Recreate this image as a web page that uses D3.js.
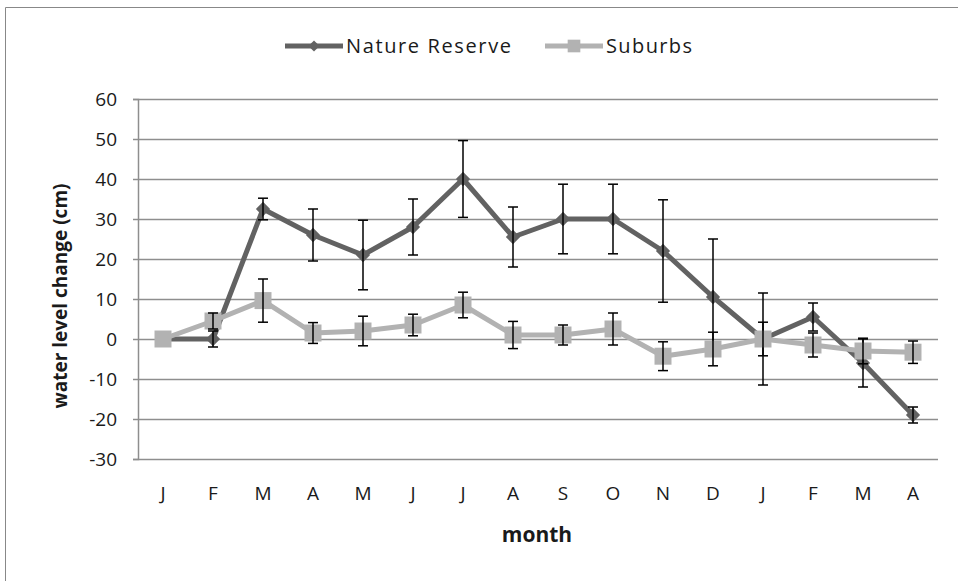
<!DOCTYPE html>
<html>
<head>
<meta charset="utf-8">
<script src="https://cdn.jsdelivr.net/npm/d3@7"></script>
<style>
  body { margin: 0; background: #fff; }
  text { font-family: "Open Sans", sans-serif; fill: #1a1a1a; }
</style>
</head>
<body>
<div id="app"></div>
<script>
// Data
const months = ["J", "F", "M", "A", "M", "J", "J", "A", "S", "O", "N", "D", "J", "F", "M", "A"];
const reserve = [0, 0, 32.5, 26, 21, 28, 40, 25.5, 30, 30, 22, 10.5, 0, 5.5, -6, -19];
const reserveErr = [0, 2, 2.7, 6.5, 8.7, 7, 9.6, 7.5, 8.7, 8.7, 12.8, 14.5, 11.5, 3.5, 6, 2];
const suburbs = [0, 4.5, 9.6, 1.5, 2, 3.5, 8.5, 1, 1, 2.5, -4.3, -2.5, 0, -1.5, -3, -3.3];
const suburbsErr = [0, 2, 5.4, 2.6, 3.7, 2.7, 3.2, 3.4, 2.5, 4, 3.6, 4.2, 4.2, 3, 3.2, 2.8];
const yTicks = [-30, -20, -10, 0, 10, 20, 30, 40, 50, 60];

const width = 958, height = 581;
const margin = { left: 138, right: 20, top: 99, bottom: 122 };

const svg = d3.select("#app").append("svg")
  .attr("width", width)
  .attr("height", height);

// Frame round the chart
svg.append("path")
  .attr("d", "M5.5,590V7.5H960")
  .attr("fill", "none")
  .attr("stroke", "#888")
  .attr("stroke-width", 1);

const x = d3.scaleBand()
  .domain(d3.range(months.length))
  .range([margin.left, width - margin.right]);

const y = d3.scaleLinear()
  .domain([-30, 60])
  .range([height - margin.bottom, margin.top]);

const cx = i => x(i) + x.bandwidth() / 2;

// Gridlines
svg.append("g")
  .selectAll("line")
  .data(yTicks)
  .join("line")
  .attr("x1", margin.left)
  .attr("x2", width - margin.right)
  .attr("y1", d => Math.round(y(d)) + 0.5)
  .attr("y2", d => Math.round(y(d)) + 0.5)
  .attr("stroke", "#8e8e8e")
  .attr("stroke-width", 1.5);

// Y axis
const yAxis = svg.append("g")
  .attr("transform", `translate(${margin.left},0)`)
  .call(d3.axisLeft(y).tickValues(yTicks).tickFormat(d => String(d)).tickSize(5).tickPadding(16));
yAxis.select(".domain").attr("stroke", "#8e8e8e").attr("stroke-width", 1.5);
yAxis.selectAll(".tick line").attr("stroke", "#8e8e8e").attr("stroke-width", 1.5);
yAxis.selectAll(".tick text")
  .style("font-family", "'Open Sans', sans-serif")
  .style("font-size", "19px")
  .attr("fill", "#1a1a1a");

// X labels
const xAxis = svg.append("g")
  .attr("transform", `translate(0,${height - margin.bottom})`)
  .call(d3.axisBottom(x).tickFormat(i => months[i]).tickSize(0).tickPadding(28));
xAxis.select(".domain").remove();
xAxis.selectAll(".tick text")
  .style("font-family", "'Open Sans', sans-serif")
  .style("font-size", "19px")
  .attr("fill", "#1a1a1a");

// Axis titles
svg.append("text")
  .attr("x", 537)
  .attr("y", 542)
  .attr("text-anchor", "middle")
  .style("font-size", "21px")
  .style("font-weight", "bold")
  .text("month");

svg.append("text")
  .attr("transform", "translate(67,296) rotate(-90)")
  .attr("text-anchor", "middle")
  .style("font-size", "19px")
  .style("font-weight", "bold")
  .text("water level change (cm)");

const line = d3.line()
  .x((d, i) => cx(i))
  .y(d => y(d));

function drawSeries(values, errs, color, shape, size) {
  svg.append("path")
    .datum(values)
    .attr("fill", "none")
    .attr("stroke", color)
    .attr("stroke-width", 5)
    .attr("stroke-linejoin", "round")
    .attr("d", line);

  svg.append("g")
    .selectAll("path")
    .data(values)
    .join("path")
    .attr("transform", (d, i) => `translate(${cx(i)},${y(d)})`)
    .attr("d", d3.symbol(shape, size))
    .attr("fill", color);

  const eb = svg.append("g")
    .attr("stroke", "#000")
    .attr("stroke-width", 1.5)
    .selectAll("g")
    .data(values.map((v, i) => ({ v, e: errs[i], i })).filter(d => d.e > 0))
    .join("g");
  eb.append("line")
    .attr("x1", d => cx(d.i)).attr("x2", d => cx(d.i))
    .attr("y1", d => y(d.v + d.e)).attr("y2", d => y(d.v - d.e));
  eb.append("line")
    .attr("x1", d => cx(d.i) - 5).attr("x2", d => cx(d.i) + 5)
    .attr("y1", d => y(d.v + d.e)).attr("y2", d => y(d.v + d.e));
  eb.append("line")
    .attr("x1", d => cx(d.i) - 5).attr("x2", d => cx(d.i) + 5)
    .attr("y1", d => y(d.v - d.e)).attr("y2", d => y(d.v - d.e));
}

const darkGray = "#626262", lightGray = "#b2b2b2";
drawSeries(reserve, reserveErr, darkGray, d3.symbolDiamond2, 130);
drawSeries(suburbs, suburbsErr, lightGray, d3.symbolSquare, 289);

// Legend
const legend = [
  { name: "Nature Reserve", color: darkGray, shape: d3.symbolDiamond2, size: 80, x: 285, len: 165 },
  { name: "Suburbs", color: lightGray, shape: d3.symbolSquare, size: 160, x: 545, len: 86 }
];
const lg = svg.append("g").selectAll("g").data(legend).join("g")
  .attr("transform", d => `translate(${d.x},46)`);
lg.append("line")
  .attr("x1", 0).attr("x2", 58)
  .attr("stroke", d => d.color)
  .attr("stroke-width", 5);
lg.append("path")
  .attr("transform", "translate(29,0)")
  .attr("d", d => d3.symbol(d.shape, d.size)())
  .attr("fill", d => d.color);
lg.append("text")
  .attr("x", 61)
  .attr("dy", "0.35em")
  .attr("textLength", d => d.len)
  .attr("lengthAdjust", "spacing")
  .style("font-size", "20px")
  .text(d => d.name);
</script>
</body>
</html>
